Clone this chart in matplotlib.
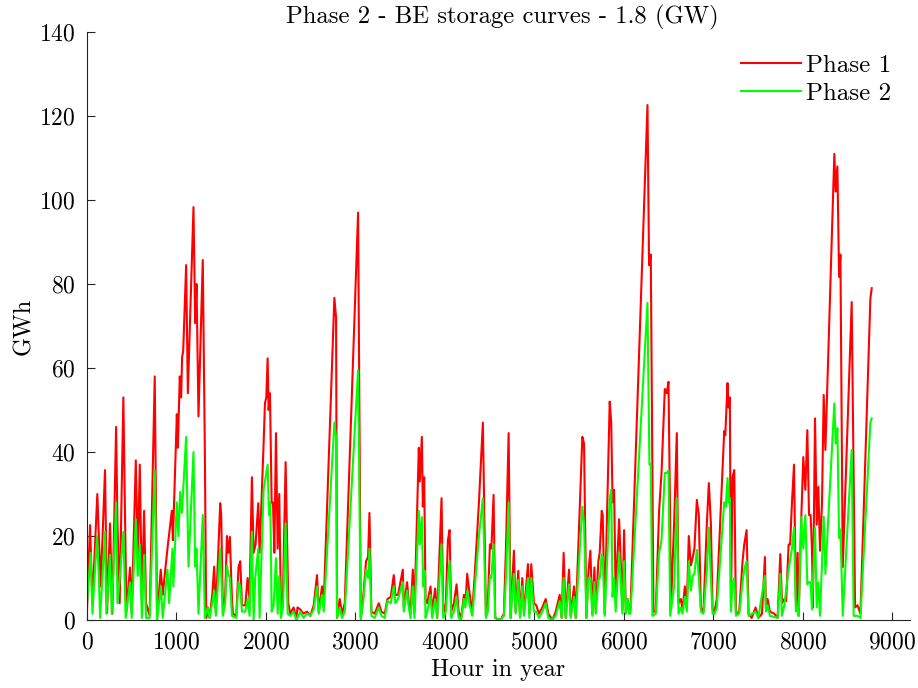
import matplotlib
matplotlib.use("Agg")
import matplotlib.pyplot as plt

# LaTeX-like look (MATLAB figure with latex interpreter)
plt.rcParams['font.family'] = 'serif'
plt.rcParams['font.serif'] = ['cmr10']
plt.rcParams['mathtext.fontset'] = 'cm'
plt.rcParams['axes.formatter.use_mathtext'] = True

# Phase 1 storage curve
p1_hour = [
    0, 34, 60, 115, 153, 201, 224, 257, 283, 325,
    340, 365, 406, 440, 481, 500, 545, 567, 590, 613,
    638, 660, 700, 757, 783, 824, 846, 899, 948, 960,
    1004, 1015, 1037, 1052, 1063, 1075, 1108, 1127, 1190, 1209,
    1224, 1246, 1294, 1317, 1332, 1350, 1370, 1400, 1421, 1440,
    1489, 1500, 1519, 1545, 1564, 1579, 1597, 1620, 1631, 1668,
    1694, 1713, 1732, 1769, 1795, 1817, 1843, 1862, 1884, 1914,
    1929, 1974, 1989, 2004, 2019, 2030, 2045, 2064, 2079, 2094,
    2112, 2131, 2149, 2168, 2190, 2220, 2250, 2272, 2309, 2340,
    2353, 2384, 2420, 2460, 2496, 2534, 2571, 2590, 2627, 2646,
    2765, 2784, 2795, 2825, 2851, 2881, 3030, 3060, 3086, 3119,
    3142, 3157, 3179, 3216, 3261, 3291, 3328, 3358, 3395, 3429,
    3447, 3477, 3530, 3541, 3578, 3597, 3616, 3642, 3660, 3709,
    3720, 3743, 3754, 3769, 3784, 3803, 3840, 3858, 3892, 3914,
    3963, 3982, 4011, 4034, 4053, 4071, 4101, 4131, 4154, 4183,
    4213, 4230, 4250, 4272, 4306, 4332, 4381, 4425, 4459, 4481,
    4504, 4520, 4545, 4563, 4623, 4660, 4683, 4713, 4735, 4772,
    4791, 4821, 4840, 4866, 4884, 4929, 4945, 4966, 4996, 5022,
    5052, 5090, 5127, 5157, 5202, 5239, 5284, 5306, 5328, 5351,
    5388, 5407, 5444, 5463, 5537, 5556, 5582, 5605, 5627, 5649,
    5672, 5687, 5716, 5731, 5754, 5765, 5787, 5825, 5843, 5860,
    5875, 5892, 5910, 5948, 5966, 5985, 6004, 6023, 6041, 6060,
    6075, 6265, 6283, 6302, 6332, 6358, 6395, 6422, 6459, 6480,
    6500, 6519, 6526, 6563, 6593, 6612, 6638, 6657, 6683, 6705,
    6727, 6750, 6772, 6790, 6817, 6839, 6862, 6891, 6929, 6951,
    6974, 6993, 7015, 7040, 7123, 7135, 7160, 7171, 7186, 7198,
    7216, 7235, 7254, 7291, 7328, 7347, 7373, 7395, 7430, 7474,
    7504, 7545, 7578, 7589, 7608, 7634, 7683, 7720, 7750, 7769,
    7795, 7815, 7843, 7860, 7880, 7903, 7925, 7944, 7955, 7985,
    8007, 8030, 8052, 8071, 8089, 8104, 8115, 8138, 8157, 8175,
    8194, 8216, 8235, 8254, 8354, 8369, 8388, 8407, 8422, 8448,
    8548, 8586, 8613, 8646, 8757, 8772]
p1_gwh = [
    2.4, 22.6, 4, 30, 8, 35.7, 1.7, 23, 1.5, 46,
    23, 4, 53, 2, 12.5, 1.5, 38, 15, 37, 5,
    26, 4, 1, 58, 0.5, 12, 6, 17, 26, 19,
    49, 41, 58, 53, 62.6, 64, 84.5, 54, 98.3, 70.7,
    80, 48.5, 85.7, 40.5, 0.5, 3, 0.5, 6, 12.7, 2,
    27.8, 25, 1.5, 6, 20, 16, 19.8, 5, 1.5, 1,
    12.7, 14, 3.5, 3.5, 10, 5, 34, 16, 18, 27.8,
    16, 42, 51.6, 53, 62.3, 50, 54, 27.8, 28, 16,
    44.5, 17, 30, 2, 6, 37.6, 4, 1.5, 3, 0.5,
    3, 2.5, 1.5, 2, 1, 3.5, 10.7, 2, 8, 4,
    76.7, 72, 0.5, 5, 1.5, 4, 97, 0.5, 5, 14,
    15, 25.5, 2, 1.5, 4, 2, 1.5, 5, 5.5, 10.7,
    6, 6, 12, 3, 9, 4, 1.5, 12, 2, 41,
    33, 43.6, 27, 34, 5, 4, 8, 2, 7.5, 0.5,
    29, 1.5, 4, 19, 21.4, 2, 4, 8.5, 2, 0.5,
    6, 4, 11, 7, 2, 10, 28, 47, 1, 4,
    18, 17, 29.8, 0.5, 0, 1.5, 17, 44.5, 0.5, 16.5,
    2, 11.7, 1, 10, 1.5, 13.3, 1.5, 13.3, 4, 3.5,
    1.5, 3, 5, 1.5, 0, 2, 6, 0.5, 16, 0.5,
    12, 1, 8, 0.5, 43.6, 42, 0.5, 11.5, 16.5, 1.5,
    12.5, 2, 14, 16, 26, 25, 1.5, 36, 52, 47,
    28, 31, 5.5, 24, 14, 2.5, 21.4, 2, 5, 2.5,
    2.5, 122.6, 84.5, 87, 2, 2, 26, 35, 55, 54,
    56.7, 23, 2.5, 23, 44.5, 4, 5, 2.5, 8, 3,
    20, 13, 15, 17, 28.6, 25, 3, 2, 23, 32.6,
    23, 2.5, 2, 5, 45, 44, 56.4, 50.6, 53, 3,
    34, 35.7, 1.5, 2, 14, 18, 21.4, 1.5, 0.5, 3,
    0.5, 1.5, 15, 3, 5, 2, 1.5, 0.5, 15.7, 4,
    5, 4.5, 18, 18, 27.8, 37, 3, 16, 1, 24.6,
    38.8, 31, 45.2, 25, 25, 17, 3, 48, 22.7, 31.7,
    16.5, 27.8, 53.6, 40.5, 111, 102, 108, 81.7, 87, 12.6,
    75.7, 3, 3.5, 1.5, 76.6, 79]

# Phase 2 storage curve
p2_hour = [
    0, 41, 60, 112, 134, 146, 201, 216, 257, 276,
    325, 340, 362, 406, 432, 481, 500, 545, 567, 590,
    613, 638, 660, 700, 757, 783, 826, 846, 899, 918,
    955, 965, 1004, 1022, 1041, 1060, 1075, 1108, 1134, 1190,
    1209, 1224, 1246, 1294, 1317, 1350, 1370, 1400, 1421, 1440,
    1489, 1519, 1545, 1564, 1579, 1597, 1620, 1668, 1694, 1713,
    1732, 1769, 1795, 1817, 1843, 1862, 1880, 1914, 1929, 1974,
    2019, 2034, 2049, 2064, 2086, 2112, 2131, 2149, 2168, 2190,
    2220, 2243, 2272, 2309, 2340, 2384, 2420, 2460, 2496, 2534,
    2571, 2590, 2627, 2646, 2765, 2784, 2795, 2825, 2851, 2881,
    3030, 3060, 3086, 3119, 3142, 3157, 3179, 3216, 3261, 3291,
    3328, 3358, 3395, 3429, 3447, 3477, 3530, 3541, 3578, 3597,
    3616, 3642, 3660, 3709, 3720, 3743, 3758, 3773, 3784, 3803,
    3840, 3858, 3892, 3914, 3963, 3982, 4011, 4034, 4053, 4071,
    4101, 4131, 4154, 4183, 4213, 4230, 4250, 4272, 4306, 4332,
    4381, 4425, 4459, 4481, 4504, 4520, 4545, 4563, 4623, 4660,
    4683, 4713, 4735, 4772, 4791, 4821, 4840, 4866, 4884, 4929,
    4945, 4966, 4996, 5022, 5052, 5090, 5127, 5157, 5202, 5239,
    5284, 5306, 5328, 5351, 5388, 5407, 5444, 5463, 5537, 5556,
    5582, 5605, 5627, 5649, 5672, 5687, 5716, 5731, 5754, 5765,
    5787, 5825, 5843, 5860, 5875, 5892, 5910, 5948, 5966, 5985,
    6004, 6023, 6041, 6060, 6075, 6265, 6287, 6302, 6320, 6358,
    6395, 6422, 6459, 6480, 6500, 6519, 6563, 6593, 6612, 6638,
    6657, 6683, 6705, 6727, 6750, 6772, 6790, 6817, 6839, 6862,
    6891, 6929, 6951, 6974, 6993, 7015, 7040, 7123, 7140, 7160,
    7171, 7186, 7198, 7216, 7235, 7254, 7291, 7328, 7347, 7373,
    7395, 7474, 7504, 7578, 7589, 7608, 7634, 7720, 7750, 7769,
    7795, 7843, 7880, 7903, 7925, 7944, 7955, 7985, 8007, 8030,
    8052, 8071, 8089, 8104, 8138, 8157, 8175, 8194, 8235, 8254,
    8354, 8369, 8388, 8407, 8422, 8448, 8548, 8570, 8613, 8646,
    8757, 8772]
p2_gwh = [
    4, 16, 1.5, 20, 9, 0.5, 21, 1.5, 15.5, 1.5,
    28, 4, 9, 21, 0.5, 9, 0.5, 24, 10.5, 18,
    0.5, 15.5, 0.5, 0.5, 35.7, 0, 8, 0.5, 12, 4,
    17, 8, 28, 20, 30.5, 25.5, 31, 43.6, 12.7, 40,
    12.7, 17, 1.5, 25, 0.5, 3, 0.5, 4, 7, 1,
    17, 1, 4, 13, 11, 10, 1, 0.5, 9, 8,
    2, 2, 5, 1, 21, 0, 10, 17, 0.5, 31,
    37, 25, 28, 2, 3.5, 14.7, 1.5, 10.5, 0.5, 3,
    23, 1.5, 1, 2, 0, 2, 0.5, 1.5, 1, 2.5,
    8, 1.5, 6, 2, 47, 43.6, 0.5, 3, 0.5, 2,
    59.5, 0, 4, 12, 10, 17, 1, 0.5, 3, 1,
    0.5, 4.5, 4, 8, 4, 5, 9, 2, 7, 3,
    0.5, 8, 0.5, 26, 18, 24.5, 8, 11.7, 0.5, 2,
    6, 0.5, 5, 0.5, 18, 0.5, 2, 10, 14, 0.5,
    2, 5.5, 0.5, 0, 5, 3, 7, 4, 1, 7,
    20, 29, 0.5, 2, 10.5, 10, 18, 0.5, 0, 1,
    10, 28, 0.5, 11, 1.5, 9.5, 0.5, 8, 1, 10,
    0.5, 10, 2, 2, 0.5, 2, 4, 0.5, 0, 1,
    4.5, 0.5, 10, 0.5, 8.5, 0.5, 5.5, 0.5, 27, 23,
    0.5, 10, 10, 1, 9, 1.5, 9.5, 10, 15.7, 15,
    1, 19.5, 29, 31, 5.5, 10, 2, 16, 9.5, 1.5,
    14, 1.5, 5, 1.5, 1.5, 75.5, 37, 37, 1, 1.5,
    16, 19, 35, 35, 35.6, 1, 8, 29, 1.5, 3,
    1.5, 5.5, 2, 14, 7, 10.5, 11, 16.7, 10, 2,
    1.5, 12, 22, 10, 1.5, 1.5, 3, 28, 27, 33.8,
    28, 29, 2, 8.5, 10, 1, 1.5, 9, 12, 14,
    1, 2, 0.5, 10.5, 2, 3.5, 1, 0.5, 11, 1,
    3.5, 12, 17, 22, 2, 3, 1, 24.5, 17, 25,
    8.5, 9, 9, 2.5, 22, 3, 9, 1, 24.6, 11,
    51.6, 42, 45.7, 19.5, 21.6, 1, 40.5, 1, 1, 0.5,
    47, 48]

fig = plt.figure(figsize=(9.18, 6.88), dpi=100)
ax = fig.add_axes([0.0948, 0.0988, 0.8965, 0.8547])

ax.plot(p1_hour, p1_gwh, color=(1, 0, 0), lw=1.5, label='Phase 1')
ax.plot(p2_hour, p2_gwh, color=(0, 1, 0), lw=1.5, label='Phase 2')

ax.set_xlim(0, 9200)
ax.set_ylim(0, 140)
ax.set_xticks(range(0, 9001, 1000))
ax.set_yticks(range(0, 141, 20))

# MATLAB style axes: no box, ticks inside
axcol = (0.15, 0.15, 0.15)
for s in ['top', 'right']:
    ax.spines[s].set_visible(False)
for s in ['left', 'bottom']:
    ax.spines[s].set_color(axcol)
    ax.spines[s].set_linewidth(0.8)
ax.tick_params(direction='in', length=6, width=0.8, colors=axcol,
               labelsize=17, pad=8, labelcolor='black')

ax.set_xlabel('Hour in year', fontsize=17.4, labelpad=4)
ax.set_ylabel('GWh', fontsize=17.4, labelpad=3)
ax.set_title('Phase 2 - BE storage curves - 1.8 (GW)', fontsize=17.8,
             pad=6, x=0.505)

ax.legend(loc='upper right', bbox_to_anchor=(1.004, 1.0), frameon=False,
          fontsize=18, handlelength=2.4, handletextpad=0.2,
          labelspacing=0.22, borderaxespad=0.5)

fig.savefig('out.png', dpi=100)
